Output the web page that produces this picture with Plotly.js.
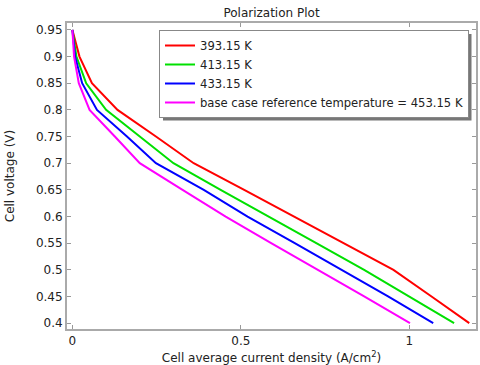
<!DOCTYPE html>
<html>
<head>
<meta charset="utf-8">
<script src="https://cdn.plot.ly/plotly-3.0.1.min.js"></script>
<style>html,body{margin:0;padding:0;background:#fff}#chart{width:480px;height:365px}</style>
</head>
<body>
<div id="chart"></div>
<script>
// Cell voltage (V) sampled at each operating point
const voltage = [0.95, 0.9, 0.85, 0.8, 0.75, 0.7, 0.65, 0.6, 0.55, 0.5, 0.45, 0.4];
// Cell average current density (A/cm^2) per temperature
const current393 = [0, 0.021, 0.058, 0.134, 0.248, 0.36, 0.51, 0.657, 0.805, 0.953, 1.066, 1.178];
const current413 = [0, 0.012, 0.041, 0.10, 0.20, 0.30, 0.44, 0.58, 0.724, 0.866, 1.0, 1.133];
const current433 = [0, 0.008, 0.029, 0.073, 0.162, 0.248, 0.39, 0.52, 0.66, 0.80, 0.937, 1.071];
const current453 = [0, 0.005, 0.019, 0.051, 0.126, 0.20, 0.327, 0.455, 0.59, 0.73, 0.866, 1.002];
const seriesNames = ["393.15 K", "413.15 K", "433.15 K", "base case reference temperature = 453.15 K"];
const seriesColors = ["#ff0000", "#00e000", "#0000ff", "#ff00ff"];
const xTicks = [0, 0.5, 1];
const xTickLabels = ["0", "0.5", "1"];
const yTicks = [0.4, 0.45, 0.5, 0.55, 0.6, 0.65, 0.7, 0.75, 0.8, 0.85, 0.9, 0.95];
const yTickLabels = ["0.4", "0.45", "0.5", "0.55", "0.6", "0.65", "0.7", "0.75", "0.8", "0.85", "0.9", "0.95"];

const currents = [current393, current413, current433, current453];
const traces = currents.map((c, i) => ({
  x: c, y: voltage, type: "scatter", mode: "lines",
  name: seriesNames[i],
  line: {color: seriesColors[i], width: 2}
}));

// plot area in pixels (for placing legend + its drop shadow)
const L = 67, R = 476, T = 23, B = 329;
const px2x = p => (p - L) / (R - L);
const px2y = p => (B - p) / (B - T);

const font = {family: "DejaVu Sans, sans-serif", size: 12, color: "#222"};
const layout = {
  width: 480, height: 365,
  margin: {l: L, r: 480 - R, t: T, b: 365 - B},
  paper_bgcolor: "#fff", plot_bgcolor: "#fff",
  font: font,
  showlegend: true,
  title: {text: "Polarization Plot", font: {family: font.family, size: 12, color: "#222"},
          x: 0.5, xref: "paper", y: 1 - 13/365, yref: "container", yanchor: "middle"},
  xaxis: {
    range: [-0.016, 1.198], tickvals: xTicks, ticktext: xTickLabels,
    ticks: "inside", ticklen: 4, tickcolor: "#999", tickwidth: 1,
    showline: true, linecolor: "#aaa", linewidth: 2, mirror: "ticks",
    showgrid: false, zeroline: false,
    tickfont: {family: font.family, size: 12, color: "#222"},
    title: {text: "Cell average current density (A/cm<sup>2</sup>)", font: {family: font.family, size: 12, color: "#222"}, standoff: 6}
  },
  yaxis: {
    range: [0.389, 0.963], tickvals: yTicks, ticktext: yTickLabels,
    ticks: "inside", ticklen: 4, tickcolor: "#999", tickwidth: 1,
    showline: true, linecolor: "#aaa", linewidth: 2, mirror: "ticks",
    showgrid: false, zeroline: false,
    tickfont: {family: font.family, size: 12, color: "#222"},
    title: {text: "Cell voltage (V)", font: {family: font.family, size: 12, color: "#222"}, standoff: 19}
  },
  legend: {
    x: px2x(469), xanchor: "right", xref: "paper",
    y: px2y(30), yanchor: "top", yref: "paper",
    bgcolor: "#fff", bordercolor: "#888", borderwidth: 1,
    tracegroupgap: 0,
    font: {family: font.family, size: 11.6, color: "#222"}
  },
  shapes: [{
    type: "rect", layer: "above", xref: "paper", yref: "paper",
    x0: px2x(163), x1: px2x(471.5), y0: px2y(120.5), y1: px2y(34),
    fillcolor: "#777", line: {width: 0}
  }]
};

Plotly.newPlot("chart", traces, layout, {staticPlot: true, displayModeBar: false});
</script>
</body>
</html>
